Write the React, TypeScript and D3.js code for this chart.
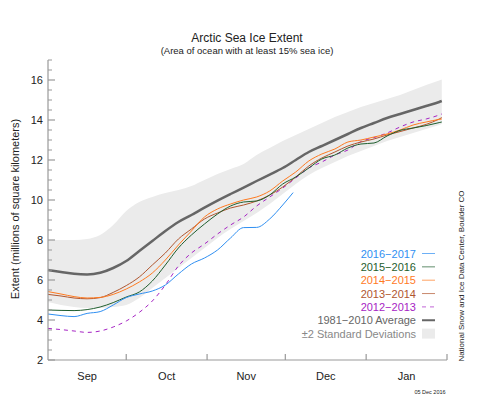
import React from "react";
import * as d3 from "d3";

// days since 1 Sep
const days = [0, 5, 10, 15, 20, 25, 30, 35, 40, 45, 50, 55, 60, 65, 70, 75, 80, 85, 90, 95, 100, 105, 110, 115, 120, 125, 130, 135, 140, 145, 150, 151];
const daysCurrent = [0, 5, 10, 15, 20, 25, 30, 35, 40, 45, 50, 55, 60, 65, 70, 75, 80, 85, 90, 94];

const average = [6.5, 6.4, 6.31, 6.28, 6.36, 6.6, 6.95, 7.45, 7.95, 8.45, 8.9, 9.25, 9.62, 9.97, 10.3, 10.62, 10.95, 11.27, 11.6, 12.0, 12.4, 12.7, 13.0, 13.3, 13.6, 13.85, 14.1, 14.3, 14.5, 14.7, 14.9, 14.95];
const bandHigh = [8.0, 8.0, 8.0, 8.05, 8.25, 8.75, 9.45, 9.9, 10.15, 10.35, 10.5, 10.7, 11.0, 11.3, 11.55, 11.8, 12.25, 12.6, 12.95, 13.25, 13.55, 13.85, 14.15, 14.4, 14.65, 14.85, 15.05, 15.25, 15.5, 15.75, 15.98, 16.02];
const bandLow = [4.9, 4.75, 4.65, 4.6, 4.6, 4.65, 4.75, 5.1, 5.6, 6.1, 6.6, 7.1, 7.6, 8.1, 8.55, 8.95, 9.35, 9.8, 10.3, 10.8, 11.25, 11.6, 11.9, 12.2, 12.45, 12.7, 12.95, 13.15, 13.35, 13.55, 13.75, 13.8];

const y2016 = [4.3, 4.22, 4.17, 4.33, 4.42, 4.75, 5.12, 5.3, 5.45, 5.75, 6.3, 6.8, 7.1, 7.5, 8.1, 8.62, 8.63, 9.05, 9.75, 10.37];
const y2015 = [4.5, 4.48, 4.47, 4.52, 4.65, 4.87, 5.15, 5.4, 5.95, 6.75, 7.6, 8.25, 8.8, 9.3, 9.7, 9.9, 9.95, 10.25, 10.8, 11.15, 11.6, 12.05, 12.25, 12.6, 12.8, 12.85, 13.2, 13.48, 13.6, 13.72, 13.87, 13.9];
const y2014 = [5.42, 5.3, 5.17, 5.1, 5.13, 5.28, 5.55, 5.9, 6.35, 7.0, 7.75, 8.45, 9.15, 9.55, 9.8, 10.0, 10.15, 10.45, 10.95, 11.4, 11.95, 12.3, 12.55, 12.9, 13.0, 13.15, 13.3, 13.5, 13.75, 13.9, 14.03, 14.05];
const y2013 = [5.28, 5.2, 5.1, 5.06, 5.12, 5.38, 5.72, 6.15, 6.75, 7.35, 8.05, 8.55, 9.05, 9.35, 9.6, 9.75, 9.95, 10.25, 10.65, 11.15, 11.7, 12.1, 12.4, 12.7, 12.9, 13.05, 13.25, 13.42, 13.6, 13.78, 14.05, 14.12];
const y2012 = [3.58, 3.52, 3.45, 3.38, 3.45, 3.65, 3.95, 4.38, 4.95, 5.75, 6.7, 7.35, 7.8, 8.3, 8.75, 9.15, 9.7, 10.15, 10.6, 11.1, 11.6, 11.9, 12.25, 12.5, 12.92, 13.12, 13.35, 13.65, 13.9, 14.05, 14.25, 14.3];

const months = ["Sep", "Oct", "Nov", "Dec", "Jan"];
const monthStarts = [0, 30, 61, 91, 122, 153];
const yMajor = [2, 4, 6, 8, 10, 12, 14, 16];

const seriesNames = ["2016\u22122017", "2015\u22122016", "2014\u22122015", "2013\u22122014", "2012\u22122013"];
const seriesColors = ["#2f8ff2", "#1f5e2e", "#ff7a1f", "#b0562f", "#a624c4"];

const FONT = "'Liberation Sans', Arial, Helvetica, sans-serif";

export default function App() {
  const x = d3.scaleLinear().domain([0, 153]).range([48, 447]);
  const y = d3.scaleLinear().domain([2, 17]).range([360, 60]);

  const line = d3
    .line<[number, number]>()
    .x((d) => x(d[0]))
    .y((d) => y(d[1]))
    .curve(d3.curveMonotoneX);

  const area = d3
    .area<number>()
    .x((_, i) => x(days[i]))
    .y0((_, i) => y(bandLow[i]))
    .y1((_, i) => y(bandHigh[i]))
    .curve(d3.curveMonotoneX);

  const pts = (dd: number[], vv: number[]) => vv.map((v, i) => [dd[i], v] as [number, number]);

  const series = [
    { vals: pts(daysCurrent, y2016), dash: undefined },
    { vals: pts(days, y2015), dash: undefined },
    { vals: pts(days, y2014), dash: undefined },
    { vals: pts(days, y2013), dash: undefined },
    { vals: pts(days, y2012), dash: "4,4" },
  ];

  const minorTicks = d3.range(2.5, 17.01, 0.5).filter((v) => v % 2 !== 0);
  const legendX = 416;
  const legendY0 = 253.5;
  const legendStep = 13.35;

  return (
    <svg width={500} height={400} style={{ position: "absolute", left: 0, top: 0, background: "#fff" }} fontFamily={FONT}>
      <text x={247} y={42} textAnchor="middle" fontSize={12} fill="#222">Arctic Sea Ice Extent</text>
      <text x={247} y={53.5} textAnchor="middle" fontSize={9.5} fill="#222">(Area of ocean with at least 15% sea ice)</text>

      <path d={area(bandHigh) ?? ""} fill="#ebebeb" />

      {series.slice().reverse().map((s, i) => {
        const idx = series.length - 1 - i;
        return (
          <path key={idx} d={line(s.vals) ?? ""} fill="none" stroke={seriesColors[idx]} strokeWidth={1} strokeDasharray={s.dash} />
        );
      })}
      <path d={line(pts(days, average)) ?? ""} fill="none" stroke="#666" strokeWidth={2.5} />

      {/* y axis */}
      <line x1={x(0)} x2={x(0)} y1={y(17)} y2={y(2)} stroke="#999" strokeWidth={1.2} />
      {yMajor.map((v) => (
        <g key={v}>
          <line x1={x(0)} x2={x(0) + 7} y1={y(v)} y2={y(v)} stroke="#999" strokeWidth={1.2} />
          <text x={43} y={y(v) + 4} textAnchor="end" fontSize={11} fill="#222">{v}</text>
        </g>
      ))}
      {minorTicks.map((v) => (
        <line key={v} x1={x(0)} x2={x(0) + 4} y1={y(v)} y2={y(v)} stroke="#999" strokeWidth={1} />
      ))}

      {/* x axis */}
      <line x1={x(0)} x2={x(153)} y1={y(2)} y2={y(2)} stroke="#999" strokeWidth={1.2} />
      {monthStarts.slice(1).map((d) => (
        <line key={d} x1={x(d)} x2={x(d)} y1={y(2)} y2={y(2) - 6} stroke="#999" strokeWidth={1.2} />
      ))}
      {months.map((m, i) => (
        <text key={m} x={x((monthStarts[i] + monthStarts[i + 1]) / 2)} y={380} textAnchor="middle" fontSize={11} fill="#222">{m}</text>
      ))}

      <text transform="translate(19,209) rotate(-90)" textAnchor="middle" fontSize={11} fill="#222">Extent (millions of square kilometers)</text>
      <text transform="translate(464,276) rotate(-90)" textAnchor="middle" fontSize={8} fill="#222">National Snow and Ice Data Center, Boulder CO</text>
      <text x={430} y={394} textAnchor="middle" fontSize={5.5} fill="#222">05 Dec 2016</text>

      {/* legend */}
      {seriesNames.map((n, i) => (
        <g key={n}>
          <text x={legendX} y={legendY0 + i * legendStep + 4} textAnchor="end" fontSize={11} fill={seriesColors[i]}>{n}</text>
          <line x1={422} x2={435} y1={legendY0 + i * legendStep} y2={legendY0 + i * legendStep} stroke={seriesColors[i]} strokeWidth={1} strokeDasharray={series[i].dash} strokeOpacity={0.7} />
        </g>
      ))}
      <text x={legendX} y={legendY0 + 5 * legendStep + 4} textAnchor="end" fontSize={11} fill="#666">1981{"\u2212"}2010 Average</text>
      <line x1={422} x2={435} y1={legendY0 + 5 * legendStep} y2={legendY0 + 5 * legendStep} stroke="#666" strokeWidth={2} />
      <text x={legendX} y={legendY0 + 6 * legendStep + 4} textAnchor="end" fontSize={11} fill="#888">{"\u00b1"}2 Standard Deviations</text>
      <rect x={422} y={legendY0 + 6 * legendStep - 5} width={13} height={10} fill="#ebebeb" />
    </svg>
  );
}
